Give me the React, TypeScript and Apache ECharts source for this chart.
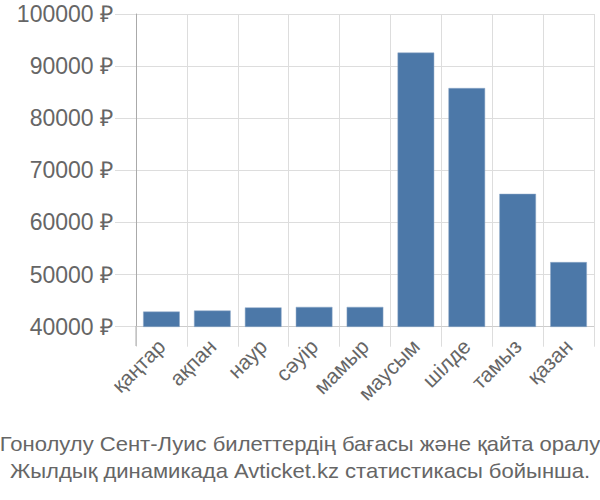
import React, { useEffect, useRef } from "react";
import * as echarts from "echarts";

const categories = ["қаңтар", "ақпан", "наур", "сәуір", "мамыр", "маусым", "шілде", "тамыз", "қазан"];
const prices = [42900, 43100, 43700, 43800, 43800, 92600, 85800, 65500, 52400];
const yTicks = { min: 40000, max: 100000, interval: 10000 };
const titleLines = [
  "Гонолулу Сент-Луис билеттердің бағасы және қайта оралу",
  "Жылдық динамикада Avticket.kz статистикасы бойынша.",
];

const FONT = "'Liberation Sans', Arial, sans-serif";

export default function App() {
  const ref = useRef<HTMLDivElement>(null);
  useEffect(() => {
    if (!ref.current) return;
    const chart = echarts.init(ref.current, undefined, { renderer: "svg" });
    chart.setOption({
      animation: false,
      backgroundColor: "#fff",
      textStyle: { fontFamily: FONT },
      grid: { left: 136, right: 6, top: 14, bottom: 173.3, containLabel: false },
      xAxis: {
        type: "category",
        data: categories,
        axisLine: { show: true, lineStyle: { color: "#ccc", width: 1 } },
        axisTick: { show: true, length: 20, lineStyle: { color: "#ddd", width: 1 } },
        splitLine: { show: true, lineStyle: { color: "#ddd", width: 1 } },
        axisLabel: {
          rotate: 45,
          interval: 0,
          margin: 16,
          fontSize: 21,
          color: "#666",
          fontFamily: FONT,
        },
      },
      yAxis: {
        type: "value",
        min: yTicks.min,
        max: yTicks.max,
        interval: yTicks.interval,
        axisLine: { show: true, lineStyle: { color: "#aaa", width: 1 } },
        axisTick: { show: true, length: 21, lineStyle: { color: "#ddd", width: 1 } },
        splitLine: { show: true, lineStyle: { color: "#ddd", width: 1 } },
        axisLabel: {
          margin: 23,
          fontSize: 23,
          color: "#666",
          fontFamily: FONT,
          formatter: (v: number) => `${v} ₽`,
        },
      },
      graphic: [
        {
          type: "line",
          shape: { x1: 136, y1: 326, x2: 136, y2: 346 },
          style: { stroke: "#aaa", lineWidth: 1 },
          z: 10,
        },
        {
          type: "text",
          x: 300,
          y: 431,
          scaleX: 1.05,
          style: {
            text: titleLines.join("\n"),
            fontFamily: FONT,
            fontSize: 21,
            lineHeight: 27,
            fill: "#666",
            align: "center",
            verticalAlign: "top",
          },
        },
      ],
      series: [
        {
          type: "bar",
          data: prices,
          barCategoryGap: "28%",
          itemStyle: { color: "#4C78A8", borderColor: "#8fa9c8", borderWidth: 0.5 },
        },
      ],
    });
    return () => chart.dispose();
  }, []);
  return (
    <div
      ref={ref}
      style={{ position: "absolute", left: 0, top: 0, width: 600, height: 500 }}
    />
  );
}
